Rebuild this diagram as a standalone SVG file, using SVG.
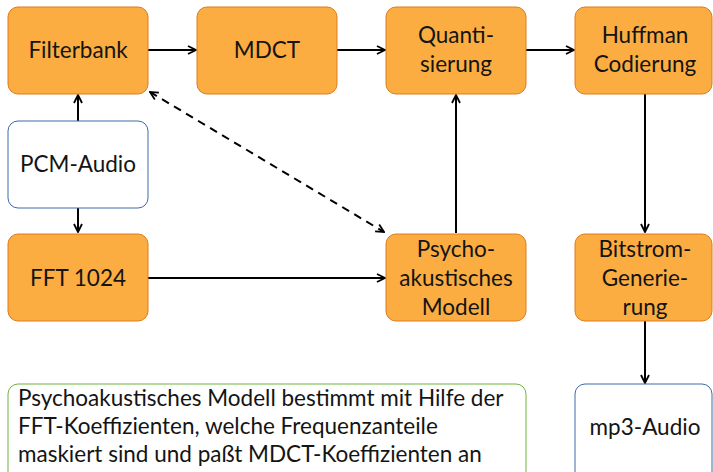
<svg xmlns="http://www.w3.org/2000/svg" width="713" height="472" viewBox="0 0 713 472">
<style>
.n{fill:#fbad41;stroke:#e07a1c;stroke-width:1}
.w{fill:#fff;stroke:#3c6aa6;stroke-width:1}
.g{fill:#fff;stroke:#6fb43f;stroke-width:1}
text{font-family:"Lato","Liberation Sans",sans-serif;font-size:22.5px;fill:#141414;text-anchor:middle}
.l{text-anchor:start}
.c{fill:none;stroke:#000;stroke-width:2}
.d{stroke-dasharray:8 6}
</style>
<defs>
<marker id="a" viewBox="0 0 10 10" refX="9" refY="5" markerWidth="10" markerHeight="10" markerUnits="userSpaceOnUse" orient="auto-start-reverse">
<path d="M1,1 L9,5 L1,9" fill="none" stroke="#000" stroke-width="1.8"/>
</marker>
</defs>
<g id="connectors">
<path class="c" d="M148,50 H196" marker-end="url(#a)"/>
<path class="c" d="M337,50 H385" marker-end="url(#a)"/>
<path class="c" d="M526,50 H574" marker-end="url(#a)"/>
<path class="c" d="M78,121 V95" marker-end="url(#a)"/>
<path class="c" d="M78,208 V232" marker-end="url(#a)"/>
<path class="c" d="M148,278 H385" marker-end="url(#a)"/>
<path class="c" d="M456,233 V95" marker-end="url(#a)"/>
<path class="c" d="M645,94 V232" marker-end="url(#a)"/>
<path class="c d" d="M150,92 L384,232" marker-start="url(#a)" marker-end="url(#a)"/>
<path class="c" d="M645,321 V383" marker-end="url(#a)"/>
</g>
<g id="filterbank"><rect class="n" x="8" y="7" width="140" height="87" rx="10"/><text x="78" y="58">Filterbank</text></g>
<g id="mdct"><rect class="n" x="197" y="7" width="140" height="87" rx="10"/><text x="267" y="58">MDCT</text></g>
<g id="quant"><rect class="n" x="386" y="7" width="140" height="87" rx="10"/><text x="456" y="43">Quanti-</text><text x="456" y="72">sierung</text></g>
<g id="huffman"><rect class="n" x="575" y="7" width="137" height="87" rx="10"/><text x="645" y="43">Huffman</text><text x="645" y="72">Codierung</text></g>
<g id="pcm"><rect class="w" x="8" y="121" width="140" height="87" rx="10"/><text x="78" y="172">PCM-Audio</text></g>
<g id="fft"><rect class="n" x="8" y="234" width="140" height="87" rx="10"/><text x="78" y="286">FFT 1024</text></g>
<g id="psycho"><rect class="n" x="386" y="234" width="140" height="87" rx="10"/><text x="456" y="257">Psycho-</text><text x="456" y="286">akustisches</text><text x="456" y="315">Modell</text></g>
<g id="bitstrom"><rect class="n" x="575" y="234" width="137" height="87" rx="10"/><text x="645" y="257">Bitstrom-</text><text x="645" y="286">Generie-</text><text x="645" y="315">rung</text></g>
<g id="note"><rect class="g" x="8" y="384" width="518" height="100" rx="10"/><text class="l" x="18" y="406">Psychoakustisches Modell bestimmt mit Hilfe der</text><text class="l" x="18" y="434">FFT-Koeffizienten, welche Frequenzanteile</text><text class="l" x="18" y="462">maskiert sind und paßt MDCT-Koeffizienten an</text></g>
<g id="mp3"><rect class="w" x="575" y="384" width="137" height="100" rx="10"/><text x="645" y="435">mp3-Audio</text></g>
</svg>
